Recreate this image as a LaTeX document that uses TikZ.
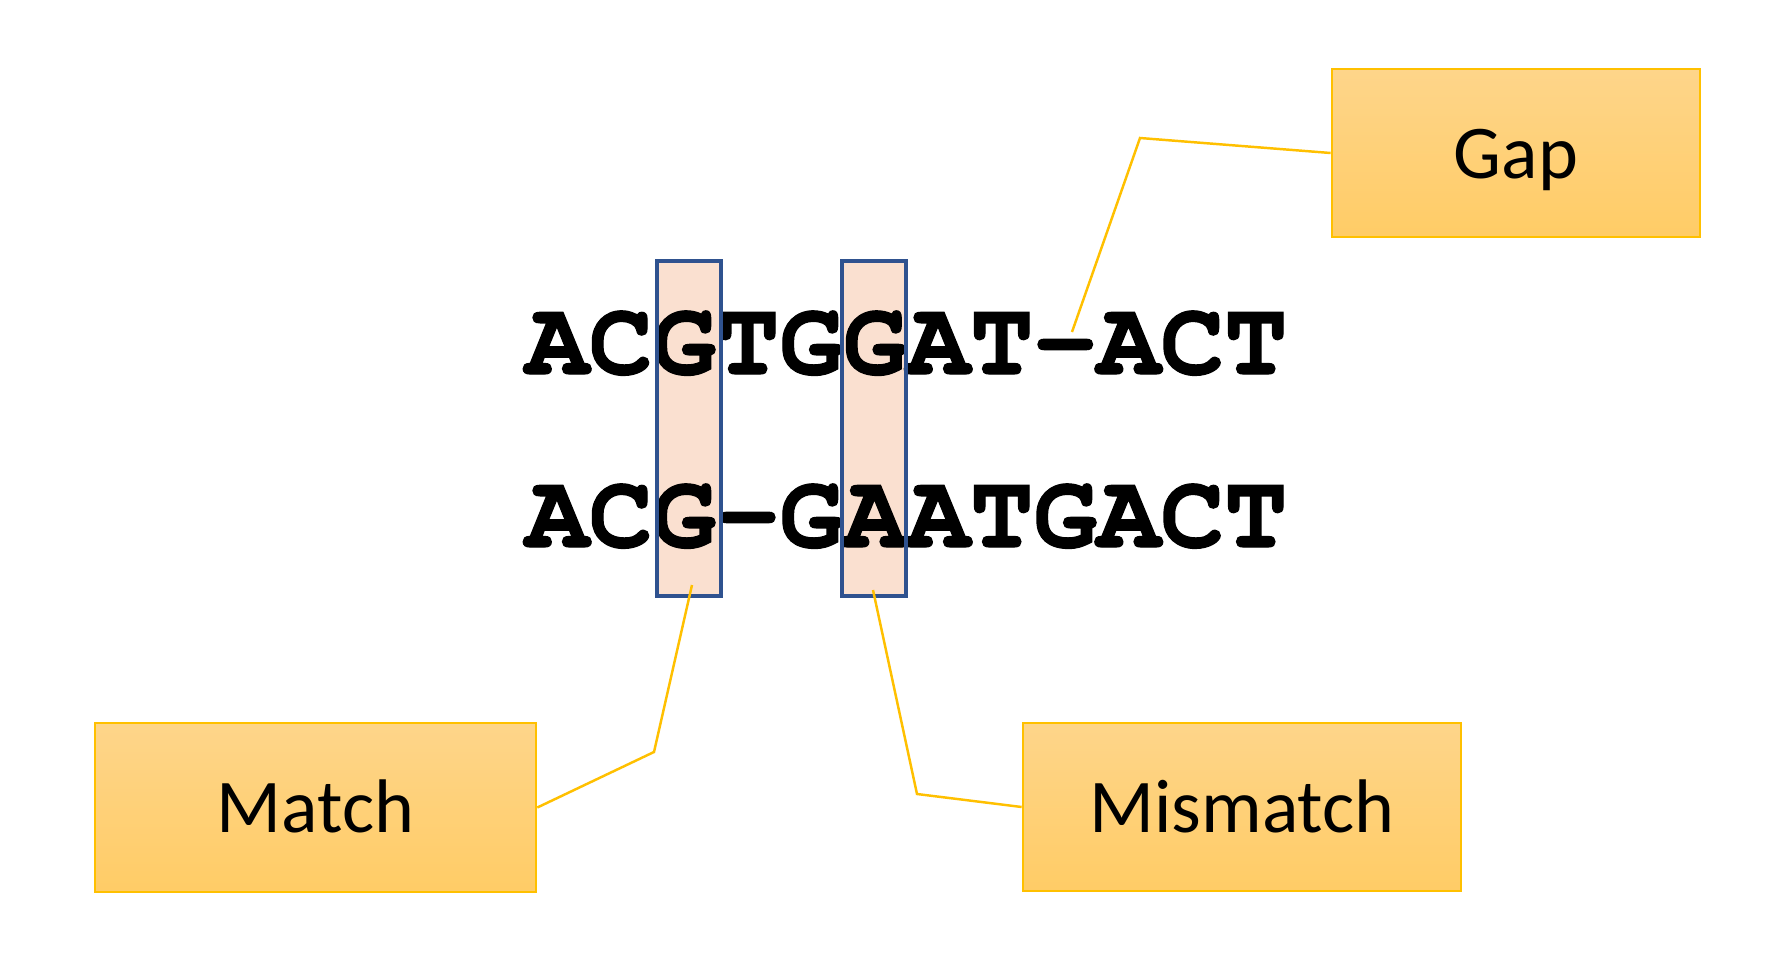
\documentclass[tikz,border=0pt]{standalone}
\usepackage{fontspec}
\setmainfont{Carlito}
\newfontfamily\seqfont{texgyrecursor}[Extension=.otf, UprightFont=*-bold, FakeBold=1.2]
\definecolor{peach}{RGB}{250,224,208}
\definecolor{hlblue}{RGB}{47,82,143}
\definecolor{goldline}{RGB}{255,192,0}
\definecolor{goldtop}{RGB}{254,213,138}
\definecolor{goldbot}{RGB}{255,204,102}
\tikzset{
  labelbox/.style={draw=goldline, line width=0.7pt, top color=goldtop, bottom color=goldbot,
    font=\fontsize{21.6pt}{26pt}\selectfont, text height=0.5cm, text depth=0pt, inner sep=0pt},
  hlfill/.style={fill=peach, draw=none, inner sep=0pt},
  hlborder/.style={draw=hlblue, line width=1.05pt},
  seqrow/.style={anchor=base, inner sep=0pt, font=\seqfont\fontsize{30.1pt}{36pt}\selectfont},
  callout/.style={draw=goldline, line width=0.7pt, line join=miter}
}
\begin{document}
\begin{tikzpicture}[x=0.01cm,y=-0.01cm]
\path[use as bounding box, fill=white] (0,0) rectangle (1765,957);
% highlight fills
\node[hlfill, minimum width=62*0.01cm, minimum height=333*0.01cm] (hl1) at (689,428.5) {};
\node[hlfill, minimum width=62*0.01cm, minimum height=333*0.01cm] (hl2) at (874,428.5) {};
% sequences
\node[seqrow] (top) at (906.5,374) {ACGTGGAT-ACT};
\node[seqrow] (bot) at (906.5,547) {ACG-GAATGACT};
% highlight borders
\draw[hlborder] (hl1.north west) rectangle (hl1.south east);
\draw[hlborder] (hl2.north west) rectangle (hl2.south east);
% label boxes
\node[labelbox, minimum width=3.68cm, minimum height=1.68cm] (gap) at (1516,153) {Gap};
\node[labelbox, minimum width=4.41cm, minimum height=1.69cm] (match) at (315.5,807.5) {Match};
\node[labelbox, minimum width=4.38cm, minimum height=1.68cm] (mismatch) at (1242,807) {Mismatch};
% callout points
\coordinate (gapbend) at (1140,138);
\coordinate (gapend) at (1072,332);
\coordinate (matchbend) at (654,752);
\coordinate (matchend) at (692,585);
\coordinate (misbend) at (917,794);
\coordinate (misend) at (873,590);
% connectors
\draw[callout] (gap.west) -- (gapbend) -- (gapend);
\draw[callout] (match.east) -- (matchbend) -- (matchend);
\draw[callout] (mismatch.west) -- (misbend) -- (misend);
\end{tikzpicture}
\end{document}
